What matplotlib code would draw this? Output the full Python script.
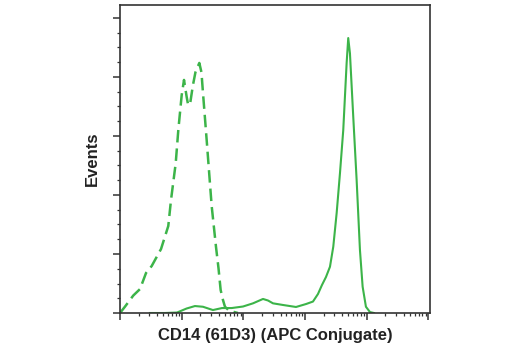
import matplotlib
matplotlib.use("Agg")
from matplotlib import pyplot as plt
from matplotlib.ticker import LogLocator, MultipleLocator, NullFormatter
import numpy as np

# isotype control (dashed), fluorescence intensity vs events
control_intensity = [10, 12, 16.4, 21.1, 26.4, 32.6, 46.2, 60.6, 67.1, 80, 88.1, 100,
                     109, 120.5, 126.5, 136, 152, 167, 193, 209, 221, 254, 306, 360,
                     395, 428, 467, 503, 585, 759, 817]
control_events = [0, 5.3, 14.8, 20.3, 33.9, 39.8, 54.2, 73.7, 95.8, 127, 155, 184.7,
                  197.5, 183, 177, 176.3, 193, 204, 211.9, 204, 187, 146.6, 90.8, 55.9,
                  38, 19.5, 11, 5.3, 2.1, 0.4, 0]

# CD14 (61D3) APC stained cells (solid)
cd14_intensity = [30.6, 53.6, 84, 120, 164, 221, 321, 450, 646, 986, 1432, 2080, 2505,
                  3020, 4385, 7130, 10360, 13430, 16190, 18790, 21830, 25340, 28670,
                  32520, 36820, 41610, 47210, 50120, 53420, 60420, 68560, 77580, 85760,
                  97000, 112700, 130900]
cd14_events = [0, 0, 0.4, 3.8, 5.9, 5.3, 2.5, 4.2, 4.2, 5.5, 8.2, 11.9, 10.6, 8.2, 6.8,
               5.1, 7.6, 9.7, 16.1, 23.7, 30.5, 39.2, 56.2, 84.7, 118.6, 155, 211.9,
               233, 220, 166.4, 112.7, 53.4, 22.3, 5.3, 0.8, 0]

green = "#3cb449"
axis_grey = "#333333"

plt.rcParams["font.family"] = ["Liberation Sans", "DejaVu Sans"]

fig = plt.figure(figsize=(5.2, 3.5), dpi=100)
ax = fig.add_axes([0.2308, 0.1057, 0.5961, 0.88])

ax.plot(cd14_intensity, cd14_events, color=green, lw=1.5, solid_joinstyle="round")
dashed, = ax.plot(control_intensity, control_events, color=green, lw=1.8)
dashed.set_dashes((5, 2.4))

ax.set_xscale("log")
ax.set_xlim(10, 1.06e6)
ax.set_ylim(0, 261)

ax.xaxis.set_major_locator(LogLocator(base=10, numticks=10))
ax.xaxis.set_minor_locator(LogLocator(base=10, subs=np.arange(2, 10), numticks=20))
ax.xaxis.set_major_formatter(NullFormatter())
ax.xaxis.set_minor_formatter(NullFormatter())
ax.yaxis.set_major_locator(MultipleLocator(50))
ax.yaxis.set_minor_locator(MultipleLocator(12.5))
ax.yaxis.set_major_formatter(NullFormatter())

ax.tick_params(axis="both", which="major", direction="out", length=5, width=1.1,
               color=axis_grey)
ax.tick_params(axis="both", which="minor", direction="out", length=2.5, width=0.9,
               color=axis_grey)
ax.tick_params(top=False, right=False, which="both")
for side in ax.spines.values():
    side.set_color(axis_grey)
    side.set_linewidth(1.2)

ax.set_xlabel("CD14 (61D3) (APC Conjugate)", fontsize=12, fontweight="bold",
              color="#222222", labelpad=2)
ax.set_ylabel("Events", fontsize=12, fontweight="bold", color="#222222", labelpad=6)

fig.savefig("out.png", dpi=100)
